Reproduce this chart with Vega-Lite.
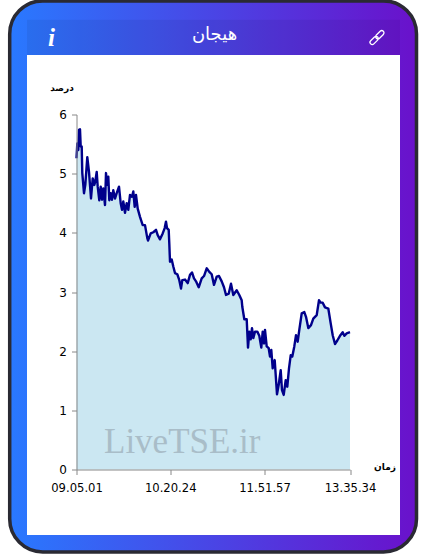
{"$schema":"https://vega.github.io/schema/vega-lite/v6.json","width":273.5,"height":355,"autosize":"none","padding":{"left":76.5,"top":114.5,"right":77,"bottom":84.5},"background":"#ffffff","config":{"view":{"stroke":null}},"datasets":{"series":[{"i":0,"v":5.26},{"i":0.8,"v":5.51},{"i":1.8,"v":5.40},{"i":2.5,"v":5.74},{"i":3.5,"v":5.75},{"i":4.2,"v":5.46},{"i":5.2,"v":5.46},{"i":5.8,"v":5.01},{"i":7.5,"v":4.67},{"i":8.8,"v":4.81},{"i":10.8,"v":5.28},{"i":12.5,"v":5.03},{"i":14.5,"v":4.58},{"i":16.2,"v":4.92},{"i":17.8,"v":4.81},{"i":18.8,"v":4.87},{"i":20.2,"v":5.03},{"i":21.2,"v":4.78},{"i":22.8,"v":4.55},{"i":24.2,"v":4.78},{"i":25.5,"v":4.56},{"i":26.8,"v":4.75},{"i":28.5,"v":4.47},{"i":29.5,"v":5.01},{"i":30.5,"v":4.81},{"i":31.8,"v":4.95},{"i":32.8,"v":4.55},{"i":34.2,"v":4.67},{"i":35.5,"v":4.56},{"i":36.8,"v":4.72},{"i":38.5,"v":4.58},{"i":40.2,"v":4.67},{"i":42.5,"v":4.78},{"i":44.2,"v":4.50},{"i":45.5,"v":4.39},{"i":46.8,"v":4.53},{"i":48.5,"v":4.34},{"i":50.2,"v":4.50},{"i":51.8,"v":4.39},{"i":53.5,"v":4.64},{"i":55.5,"v":4.61},{"i":56.8,"v":4.70},{"i":58.2,"v":4.44},{"i":59.5,"v":4.64},{"i":61.2,"v":4.41},{"i":63.5,"v":4.27},{"i":66.2,"v":4.13},{"i":68.5,"v":4.13},{"i":70.8,"v":3.91},{"i":71.5,"v":3.87},{"i":74.2,"v":3.99},{"i":76.8,"v":4.01},{"i":79.5,"v":4.05},{"i":81.2,"v":3.96},{"i":83.5,"v":3.89},{"i":86.2,"v":3.99},{"i":88.2,"v":4.08},{"i":89.5,"v":4.19},{"i":90.5,"v":4.08},{"i":92.2,"v":4.05},{"i":92.8,"v":3.82},{"i":93.5,"v":3.51},{"i":95.2,"v":3.55},{"i":96.8,"v":3.43},{"i":98.5,"v":3.32},{"i":100.8,"v":3.30},{"i":102.8,"v":3.20},{"i":104.5,"v":3.06},{"i":105.8,"v":3.20},{"i":108.5,"v":3.21},{"i":111.2,"v":3.15},{"i":113.5,"v":3.29},{"i":115.5,"v":3.33},{"i":117.5,"v":3.23},{"i":119.5,"v":3.18},{"i":122.2,"v":3.08},{"i":125.2,"v":3.23},{"i":127.5,"v":3.27},{"i":130.2,"v":3.40},{"i":132.8,"v":3.34},{"i":135.2,"v":3.30},{"i":137.5,"v":3.12},{"i":140.2,"v":3.26},{"i":142.5,"v":3.27},{"i":145.2,"v":3.18},{"i":147.5,"v":3.08},{"i":149.5,"v":2.95},{"i":152.2,"v":2.97},{"i":154.5,"v":3.14},{"i":156.8,"v":2.95},{"i":160.2,"v":3.03},{"i":162.8,"v":2.95},{"i":165.2,"v":2.86},{"i":165.8,"v":2.75},{"i":167.8,"v":2.54},{"i":170.2,"v":2.54},{"i":171.5,"v":2.06},{"i":172.8,"v":2.33},{"i":174.2,"v":2.20},{"i":175.5,"v":2.39},{"i":176.8,"v":2.22},{"i":178.5,"v":2.33},{"i":180.8,"v":2.33},{"i":182.8,"v":2.26},{"i":184.8,"v":2.06},{"i":186.2,"v":2.33},{"i":187.5,"v":2.13},{"i":188.5,"v":2.36},{"i":190.2,"v":2.08},{"i":192.2,"v":2.05},{"i":193.5,"v":1.91},{"i":194.8,"v":2.02},{"i":196.2,"v":1.71},{"i":198.2,"v":1.85},{"i":200.5,"v":1.27},{"i":202.2,"v":1.43},{"i":204.2,"v":1.68},{"i":205.5,"v":1.34},{"i":207.2,"v":1.26},{"i":209.2,"v":1.51},{"i":210.8,"v":1.40},{"i":212.5,"v":1.71},{"i":214.2,"v":1.93},{"i":215.8,"v":1.91},{"i":217.8,"v":2.08},{"i":219.5,"v":2.27},{"i":221.2,"v":2.16},{"i":222.8,"v":2.36},{"i":225.2,"v":2.64},{"i":227.8,"v":2.66},{"i":229.5,"v":2.58},{"i":231.8,"v":2.39},{"i":234.5,"v":2.44},{"i":236.8,"v":2.55},{"i":240.2,"v":2.61},{"i":242.5,"v":2.86},{"i":244.2,"v":2.82},{"i":246.2,"v":2.82},{"i":248.5,"v":2.74},{"i":251.8,"v":2.72},{"i":254.2,"v":2.47},{"i":256.2,"v":2.27},{"i":258.5,"v":2.12},{"i":260.8,"v":2.18},{"i":263.5,"v":2.26},{"i":266.2,"v":2.32},{"i":267.8,"v":2.26},{"i":270.2,"v":2.30},{"i":273.5,"v":2.32}]},"layer":[{"data":{"values":[{"part":"card"}]},"mark":{"type":"rect","cornerRadius":33,"stroke":"#2a2a33","strokeWidth":3.5,"fill":{"gradient":"linear","x1":0,"y1":0,"x2":1,"y2":0,"stops":[{"offset":0,"color":"#2979ff"},{"offset":1,"color":"#6a11cb"}]}},"encoding":{"x":{"datum":-66.8},"x2":{"datum":340},"y":{"datum":7.92},"y2":{"datum":-1.394}}},{"data":{"values":[{"part":"header"}]},"mark":{"type":"rect","color":"#000000","opacity":0.06},"encoding":{"x":{"datum":-49.5},"x2":{"datum":323.5},"y":{"datum":7.6},"y2":{"datum":7.005}}},{"data":{"values":[{"part":"panel"}]},"mark":{"type":"rect","color":"#ffffff"},"encoding":{"x":{"datum":-49.5},"x2":{"datum":323.5},"y":{"datum":7.005},"y2":{"datum":-1.107}}},{"data":{"name":"series"},"mark":{"type":"area","color":"#cbe7f2","opacity":1},"encoding":{"x":{"field":"i","type":"quantitative","scale":{"domain":[0,273.5],"nice":false,"zero":false},"axis":{"values":[0,93.7,188,273.5],"labelExpr":"datum.value==0?'09.05.01':datum.value<100?'10.20.24':datum.value<200?'11.51.57':'13.35.34'","title":null,"grid":false,"zindex":1,"domainColor":"#888888","tickColor":"#888888","tickSize":5,"labelColor":"#000000","labelFont":"DejaVu Sans","labelFontSize":11.6,"labelPadding":8,"labelOverlap":false,"labelBound":false,"labelFlush":false}},"y":{"field":"v","type":"quantitative","scale":{"domain":[0,6],"nice":false},"axis":{"values":[0,1,2,3,4,5,6],"format":"d","title":null,"grid":false,"zindex":1,"domainColor":"#888888","tickColor":"#888888","tickSize":5,"labelColor":"#000000","labelFont":"DejaVu Sans","labelFontSize":12,"labelPadding":5}}}},{"data":{"name":"series"},"mark":{"type":"line","color":"#00008b","strokeWidth":2.4,"strokeJoin":"round"},"encoding":{"x":{"field":"i","type":"quantitative"},"y":{"field":"v","type":"quantitative"}}},{"data":{"values":[{"label":"LiveTSE.ir"}]},"mark":{"type":"text","font":"Liberation Serif","fontSize":35,"color":"#a9bdc8","align":"left","baseline":"alphabetic"},"encoding":{"x":{"datum":27.5},"y":{"datum":0.28},"text":{"field":"label"}}},{"data":{"values":[{"label":"هیجان"}]},"mark":{"type":"text","font":"DejaVu Sans","fontSize":18,"color":"#ffffff","align":"center","baseline":"middle"},"encoding":{"x":{"datum":138},"y":{"datum":7.34},"text":{"field":"label"}}},{"data":{"values":[{"label":"i"}]},"mark":{"type":"text","font":"Liberation Serif","fontSize":25,"fontStyle":"italic","fontWeight":"bold","color":"#ffffff","align":"center","baseline":"middle"},"encoding":{"x":{"datum":-25},"y":{"datum":7.3},"text":{"field":"label"}}},{"data":{"values":[{"label":"درصد"}]},"mark":{"type":"text","font":"DejaVu Sans","fontSize":9,"fontWeight":"bold","color":"#000000","align":"center","baseline":"middle"},"encoding":{"x":{"datum":-14.5},"y":{"datum":6.45},"text":{"field":"label"}}},{"data":{"values":[{"label":"زمان"}]},"mark":{"type":"text","font":"DejaVu Sans","fontSize":9,"fontWeight":"bold","color":"#000000","align":"center","baseline":"middle"},"encoding":{"x":{"datum":308.5},"y":{"datum":0.04},"text":{"field":"label"}}},{"data":{"values":[{"part":"link"}]},"mark":{"type":"point","filled":false,"opacity":1,"stroke":"#ffffff","strokeWidth":1.3,"size":320,"angle":45,"shape":"M-0.25,-0.15 L-0.25,-0.75 A0.25,0.25 0 0 1 0.25,-0.75 L0.25,-0.15 A0.25,0.25 0 0 1 -0.25,-0.15 Z M-0.25,0.15 L-0.25,0.75 A0.25,0.25 0 0 0 0.25,0.75 L0.25,0.15 A0.25,0.25 0 0 0 -0.25,0.15 Z"},"encoding":{"x":{"datum":300.5},"y":{"datum":7.3}}}]}
